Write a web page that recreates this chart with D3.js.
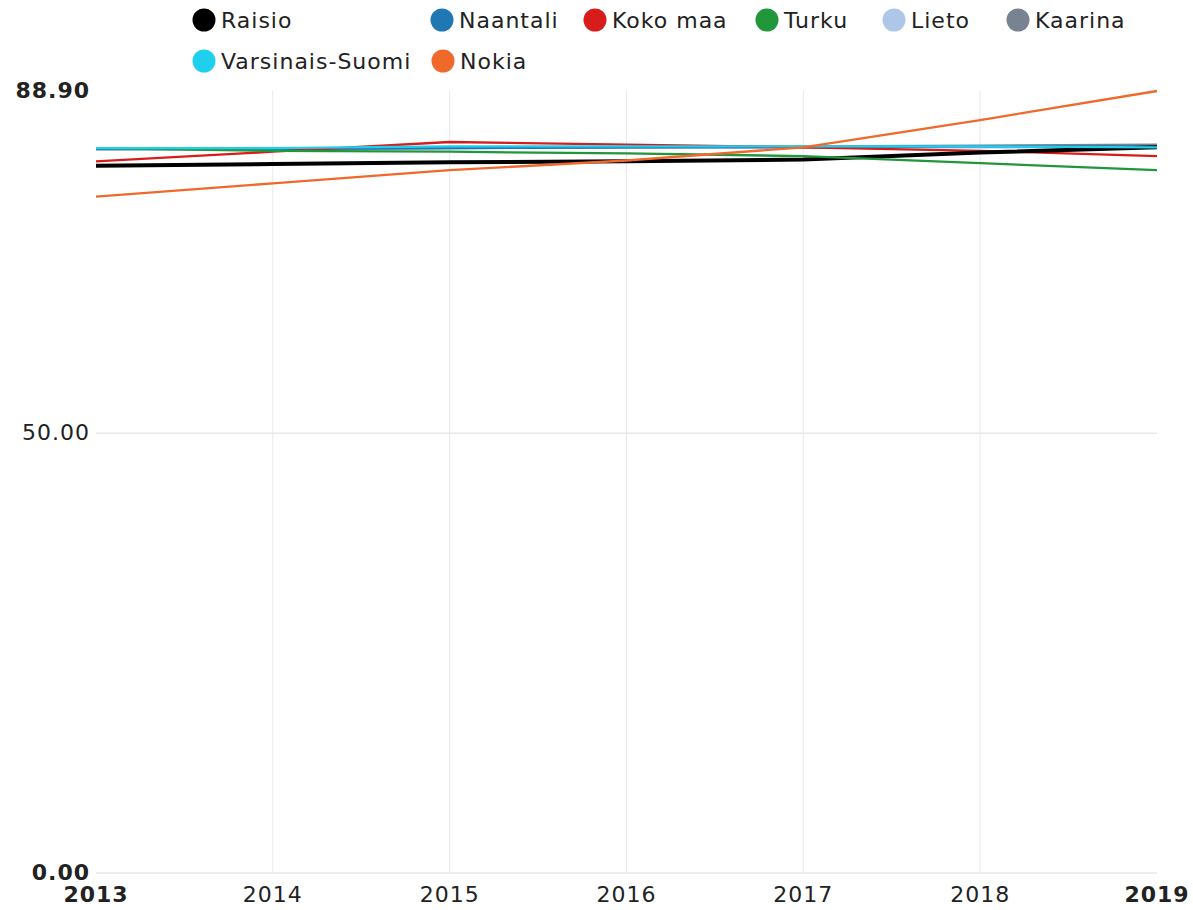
<!DOCTYPE html>
<html>
<head>
<meta charset="utf-8">
<script src="https://cdn.jsdelivr.net/npm/d3@7"></script>
<style>
  html, body { margin: 0; padding: 0; background: #fff; }
  svg { display: block; font-family: "DejaVu Sans", sans-serif; }
</style>
</head>
<body>
<svg id="chart" width="1193" height="910"></svg>
<script>
// Years on the x axis
const years = [2013, 2014, 2015, 2016, 2017, 2018, 2019];

// Series names, in legend order
const seriesNames = ["Raisio", "Naantali", "Koko maa", "Turku", "Lieto", "Kaarina", "Varsinais-Suomi", "Nokia"];

// Values per series
const raisio         = [80.4, 80.6, 80.8, 80.9, 81.1, 81.9, 82.5];
const naantali       = [82.3, 82.3, 82.4, 82.5, 82.5, 82.6, 82.6];
const kokoMaa        = [80.9, 82.0, 83.1, 82.8, 82.5, 82.1, 81.5];
const turku          = [82.4, 82.1, 82.0, 81.8, 81.5, 80.7, 79.9];
const lieto          = [82.3, 82.3, 82.4, 82.5, 82.5, 82.5, 82.5];
const kaarina        = [82.3, 82.3, 82.4, 82.5, 82.6, 82.7, 82.8];
const varsinaisSuomi = [82.4, 82.4, 82.6, 82.6, 82.6, 82.6, 82.5];
const nokia          = [76.9, 78.4, 79.9, 81.0, 82.5, 85.6, 88.9];

// Y axis tick labels
const yTicks = [0, 50, 88.9];

const colors = {
  "Raisio": "#000000",
  "Naantali": "#1f77b4",
  "Koko maa": "#d81b1b",
  "Turku": "#21963b",
  "Lieto": "#aec7e8",
  "Kaarina": "#778391",
  "Varsinais-Suomi": "#1fd0ee",
  "Nokia": "#f0692b"
};

const valuesByName = {
  "Raisio": raisio,
  "Naantali": naantali,
  "Koko maa": kokoMaa,
  "Turku": turku,
  "Lieto": lieto,
  "Kaarina": kaarina,
  "Varsinais-Suomi": varsinaisSuomi,
  "Nokia": nokia
};

const svg = d3.select("#chart");
const plotLeft = 96, plotRight = 1157, plotTop = 91, plotBottom = 873;
const fontSize = 22, letterSpacing = 1;

const x = d3.scaleLinear().domain([d3.min(years), d3.max(years)]).range([plotLeft, plotRight]);
const y = d3.scaleLinear().domain([0, d3.max(yTicks)]).range([plotBottom, plotTop]);

// Gridlines
const grid = svg.append("g");
grid.selectAll("line.v")
  .data(years.slice(1, -1))
  .join("line")
  .attr("class", "v")
  .attr("x1", d => x(d)).attr("x2", d => x(d))
  .attr("y1", plotTop).attr("y2", plotBottom)
  .attr("stroke", "#e8e8e8").attr("stroke-width", 1);
grid.selectAll("line.h")
  .data(yTicks.slice(0, -1))
  .join("line")
  .attr("class", "h")
  .attr("x1", plotLeft).attr("x2", plotRight)
  .attr("y1", d => y(d)).attr("y2", d => y(d))
  .attr("stroke", "#e8e8e8").attr("stroke-width", 1.5);

// Y axis labels
svg.append("g")
  .selectAll("text")
  .data(yTicks)
  .join("text")
  .attr("x", 90)
  .attr("y", d => y(d))
  .attr("dy", "0.3em")
  .attr("text-anchor", "end")
  .attr("font-size", fontSize)
  .attr("letter-spacing", letterSpacing)
  .attr("font-weight", (d, i) => (i === 1 ? "normal" : "bold"))
  .attr("fill", "#222")
  .text(d => d3.format(".2f")(d));

// X axis labels
svg.append("g")
  .selectAll("text")
  .data(years)
  .join("text")
  .attr("x", d => x(d))
  .attr("y", 902)
  .attr("text-anchor", "middle")
  .attr("font-size", fontSize)
  .attr("letter-spacing", letterSpacing)
  .attr("font-weight", (d, i) => (i === 0 || i === years.length - 1 ? "bold" : "normal"))
  .attr("fill", "#222")
  .text(d => d);

// Lines
const line = d3.line()
  .x((d, i) => x(years[i]))
  .y(d => y(d));

const drawOrder = ["Lieto", "Kaarina", "Naantali", "Koko maa", "Raisio", "Turku", "Varsinais-Suomi", "Nokia"];
svg.append("g")
  .selectAll("path")
  .data(drawOrder)
  .join("path")
  .attr("d", n => line(valuesByName[n]))
  .attr("fill", "none")
  .attr("stroke", n => colors[n])
  .attr("stroke-width", n => n === "Raisio" ? 4 : 2.3)
  .attr("stroke-linejoin", "round");

// Legend
const legendPos = [
  [204, 20], [442, 20], [595, 20], [767, 20], [894, 20], [1018, 20],
  [204, 61], [443, 61]
];
const legend = svg.append("g")
  .selectAll("g")
  .data(seriesNames)
  .join("g")
  .attr("transform", (d, i) => `translate(${legendPos[i][0]},${legendPos[i][1]})`);
legend.append("circle")
  .attr("r", 11.5)
  .attr("fill", d => colors[d]);
legend.append("text")
  .attr("x", 17)
  .attr("dy", "0.36em")
  .attr("font-size", fontSize)
  .attr("letter-spacing", letterSpacing)
  .attr("fill", "#222")
  .text(d => d);
</script>
</body>
</html>
